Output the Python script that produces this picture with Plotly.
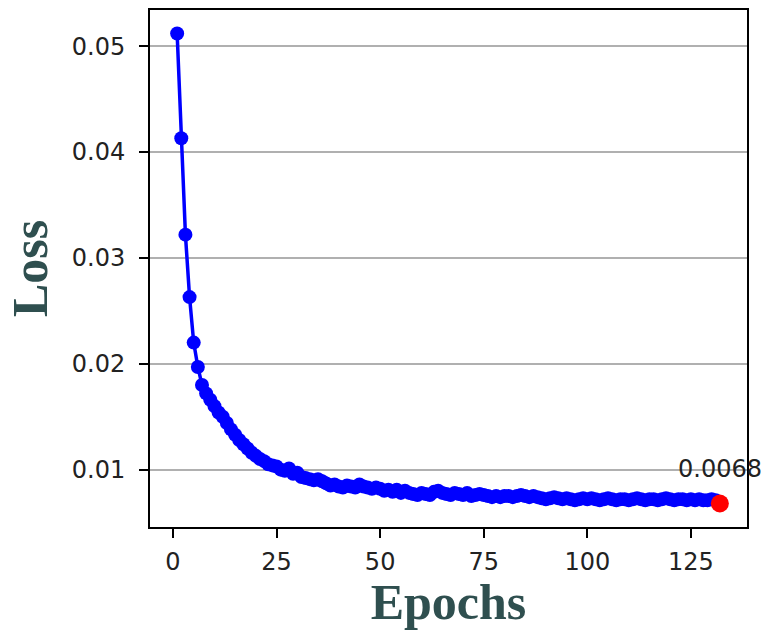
import plotly.graph_objects as go

# training loss per epoch
epochs = list(range(1, 133))
loss = [
    0.0512, 0.0413, 0.0322, 0.0263, 0.0220, 0.0197, 0.0180, 0.0172, 0.0166, 0.0160,
    0.0154, 0.0150, 0.0144, 0.0138, 0.0133, 0.0128, 0.0124, 0.0120, 0.0116, 0.0113,
    0.0110, 0.0108, 0.0105, 0.0104, 0.0103, 0.0100, 0.0099, 0.0101, 0.0096, 0.0097,
    0.0093, 0.0092, 0.0091, 0.0090, 0.0091, 0.0089, 0.0087, 0.0085, 0.0086, 0.0084,
    0.0083, 0.0085, 0.0084, 0.0083, 0.0086, 0.0084, 0.0083, 0.0082, 0.0083, 0.0082,
    0.0080, 0.0081, 0.0079, 0.0081, 0.0078, 0.0080, 0.0078, 0.0077, 0.0076, 0.0078,
    0.0077, 0.0076, 0.0079, 0.0080, 0.0078, 0.0077, 0.0076, 0.0078, 0.0077, 0.0076,
    0.0078, 0.0075, 0.0076, 0.0077, 0.0076, 0.0075, 0.0074, 0.0075, 0.0074, 0.0075,
    0.0075, 0.0074, 0.0075, 0.0076, 0.0075, 0.0074, 0.0075, 0.0074, 0.0073, 0.0072,
    0.0073, 0.0074, 0.0073, 0.0072, 0.0073, 0.0072, 0.0071, 0.0072, 0.0073, 0.0072,
    0.0073, 0.0072, 0.0071, 0.0072, 0.0073, 0.0072, 0.0071, 0.0072, 0.0072, 0.0071,
    0.0072, 0.0073, 0.0072, 0.0071, 0.0072, 0.0072, 0.0071, 0.0072, 0.0073, 0.0072,
    0.0071, 0.0072, 0.0072, 0.0071, 0.0072, 0.0071, 0.0072, 0.0071, 0.0071, 0.0072,
    0.0071, 0.0068,
]
x_ticks = [0, 25, 50, 75, 100, 125]
y_ticks = [0.01, 0.02, 0.03, 0.04, 0.05]

# matplotlib-style 5% margins
xspan = epochs[-1] - epochs[0]
yspan = max(loss) - min(loss)
xr = [epochs[0] - 0.05 * xspan, epochs[-1] + 0.05 * xspan]
yr = [min(loss) - 0.05 * yspan, max(loss) + 0.05 * yspan]

title_font = dict(family="Liberation Serif", size=50, color="#2F4F4F")

fig = go.Figure()
fig.add_trace(go.Scatter(
    x=epochs, y=loss, mode="lines+markers",
    line=dict(color="blue", width=3.5),
    marker=dict(color="blue", size=14),
    cliponaxis=False,
))
fig.add_trace(go.Scatter(
    x=[epochs[-1]], y=[loss[-1]], mode="markers",
    marker=dict(color="red", size=18),
    cliponaxis=False,
))
fig.add_annotation(
    x=epochs[-1], y=loss[-1], text=f"{loss[-1]:.4f}",
    showarrow=False, yshift=35, xanchor="center", yanchor="middle",
    font=dict(family="DejaVu Sans", size=24, color="#222"),
)

fig.update_layout(
    width=765, height=630,
    margin=dict(l=150, r=18, t=8, b=103),
    plot_bgcolor="white", paper_bgcolor="white",
    showlegend=False,
    font=dict(family="DejaVu Sans", size=24, color="#222"),
)
fig.update_xaxes(
    range=xr, tickvals=x_ticks, showgrid=False, zeroline=False,
    showline=True, linecolor="black", linewidth=2, mirror=True,
    ticks="outside", ticklen=9, tickwidth=2, tickcolor="black",
    ticklabelstandoff=3,
    title=dict(text="<b>Epochs</b>", font=title_font, standoff=2),
)
fig.update_yaxes(
    range=yr, tickvals=y_ticks, tickformat=".2f",
    showgrid=True, gridcolor="#b0b0b0", gridwidth=2, zeroline=False,
    showline=True, linecolor="black", linewidth=2, mirror=True,
    ticks="outside", ticklen=9, tickwidth=2, tickcolor="black",
    ticklabelstandoff=9,
    title=dict(text="<b>Loss</b>", font=title_font, standoff=8),
)

# drop the page's default body margin so the figure sits at the corner
fig.write_html("out.html", config={"displayModeBar": False},
               post_script="document.body.style.margin='0';")
